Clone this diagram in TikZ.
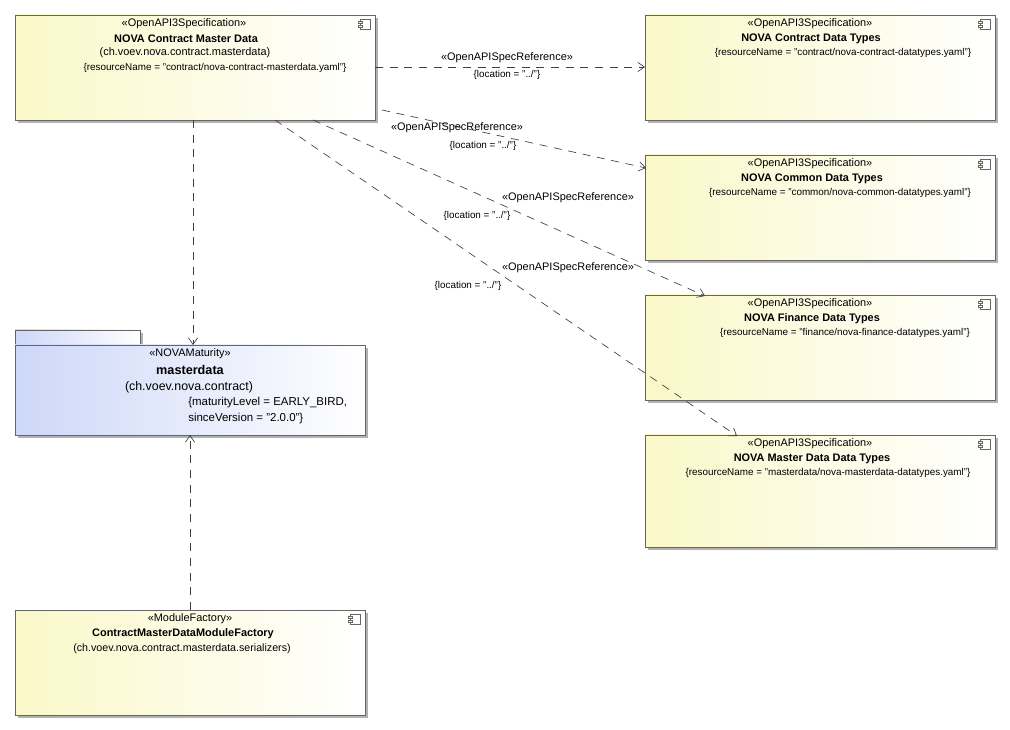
\documentclass[tikz,border=0pt]{standalone}
\usepackage{fontspec}
\setmainfont{Liberation Sans}
\usetikzlibrary{arrows.meta}
\definecolor{yel}{RGB}{250,248,200}
\definecolor{blu}{RGB}{205,215,248}
\begin{document}
\begin{tikzpicture}[x=0.75pt,y=-0.75pt,font=\fontsize{8.2}{10}\selectfont,
  box/.style={draw=black!60,line width=0.5pt,left color=yel,right color=white},
  shad/.style={fill=black!30},
  dep/.style={draw=black!75,line width=0.5pt,dash pattern=on 6pt off 5pt,-{Straight Barb[length=5pt,width=7pt]}},
  lbl/.style={inner sep=0pt},
  nm/.style={font=\fontsize{8.2}{10}\selectfont\bfseries},
  rs/.style={font=\fontsize{7.4}{9}\selectfont}]
\useasboundingbox (0,0) rectangle (1010,730);
\newcommand{\comp}[6]{%
  \fill[shad] (#2+3,#3+3) rectangle (#4+3,#5+3);
  \path[box] (#2,#3) rectangle (#4,#5);
  \node[coordinate] (#1) at ({(#2+#4)/2},{(#3+#5)/2}) {};
  \draw[black!60,line width=0.4pt] (#4-15,#3+4) rectangle (#4-5,#3+14);
  \draw[black!60,line width=0.4pt,fill=yel] (#4-17,#3+6) rectangle (#4-13,#3+8);
  \draw[black!60,line width=0.4pt,fill=yel] (#4-17,#3+10) rectangle (#4-13,#3+12);
  #6}
\comp{cmd}{15}{15}{375}{120}{
  \node[lbl] at (184,24) {«OpenAPI3Specification»};
  \node[lbl,nm] at (186,39) {NOVA Contract Master Data};
  \node[lbl,font=\fontsize{8.2}{10}\selectfont] at (185,53) {(ch.voev.nova.contract.masterdata)};
  \node[lbl,rs] at (215,68) {\{resourceName = "contract/nova-contract-masterdata.yaml"\}};}
\comp{t1}{645}{15}{995}{120}{
  \node[lbl] at (810,24) {«OpenAPI3Specification»};
  \node[lbl,nm] at (811,39) {NOVA Contract Data Types};
  \node[lbl,rs] at (843,53) {\{resourceName = "contract/nova-contract-datatypes.yaml"\}};}
\comp{t2}{645}{155}{995}{260}{
  \node[lbl] at (810,164) {«OpenAPI3Specification»};
  \node[lbl,nm] at (812,179) {NOVA Common Data Types};
  \node[lbl,rs] at (840,193) {\{resourceName = "common/nova-common-datatypes.yaml"\}};}
\comp{t3}{645}{295}{995}{400}{
  \node[lbl] at (810,304) {«OpenAPI3Specification»};
  \node[lbl,nm] at (812,319) {NOVA Finance Data Types};
  \node[lbl,rs] at (845,333) {\{resourceName = "finance/nova-finance-datatypes.yaml"\}};}
\comp{t4}{645}{435}{995}{547}{
  \node[lbl] at (810,444) {«OpenAPI3Specification»};
  \node[lbl,nm] at (812,459) {NOVA Master Data Data Types};
  \node[lbl,rs] at (828,473) {\{resourceName = "masterdata/nova-masterdata-datatypes.yaml"\}};}
\comp{fac}{15}{610}{365}{715}{
  \node[lbl] at (190,619) {«ModuleFactory»};
  \node[lbl,nm] at (183,634) {ContractMasterDataModuleFactory};
  \node[lbl,font=\fontsize{8}{10}\selectfont] at (182,649) {(ch.voev.nova.contract.masterdata.serializers)};}
\fill[shad] (18,333) rectangle (143,348);
\fill[shad] (18,348) rectangle (368,438);
\path[draw=black!60,line width=0.5pt,left color=blu,right color=white] (15,330) rectangle (140,345);
\path[draw=black!60,line width=0.5pt,left color=blu,right color=white] (15,345) rectangle (365,435);
\node[coordinate] (pkg) at (190,390) {};
\node[lbl] at (190,354) {«NOVAMaturity»};
\node[lbl,font=\fontsize{9.5}{11}\selectfont\bfseries] at (190,370) {masterdata};
\node[lbl,font=\fontsize{9.3}{11}\selectfont] at (189,387) {(ch.voev.nova.contract)};
\node[lbl,font=\fontsize{8.6}{10}\selectfont,anchor=west] at (188,403) {\{maturityLevel = EARLY\_BIRD,};
\node[lbl,font=\fontsize{8.6}{10}\selectfont,anchor=west] at (188,419) {sinceVersion = "2.0.0"\}};
\coordinate (a1) at (375,67); \coordinate (b1) at (645,67);
\draw[dep] (a1) -- (b1);
\coordinate (a2) at (382,110); \coordinate (b2) at (646,168);
\draw[dep] (a2) -- (b2);
\coordinate (a3) at (313,120); \coordinate (b3) at (705,296);
\draw[dep] (a3) -- (b3);
\coordinate (a4) at (275,120); \coordinate (b4) at (737,436);
\draw[dep] (a4) -- (b4);
\coordinate (a5) at (193,120); \coordinate (b5) at (193,345);
\draw[dep] (a5) -- (b5);
\coordinate (a6) at (190,610); \coordinate (b6) at (190,435);
\draw[dep] (a6) -- (b6);
\node[lbl,fill=white] at (507,58) {«OpenAPISpecReference»};
\node[lbl,fill=white,rs] at (507,75) {\{location = "../"\}};
\node[lbl] at (457,128) {«OpenAPISpecReference»};
\node[lbl,rs] at (483,146) {\{location = "../"\}};
\node[lbl] at (568,198) {«OpenAPISpecReference»};
\node[lbl,rs] at (477,216) {\{location = "../"\}};
\node[lbl] at (568,268) {«OpenAPISpecReference»};
\node[lbl,rs] at (468,286) {\{location = "../"\}};
\end{tikzpicture}
\end{document}
